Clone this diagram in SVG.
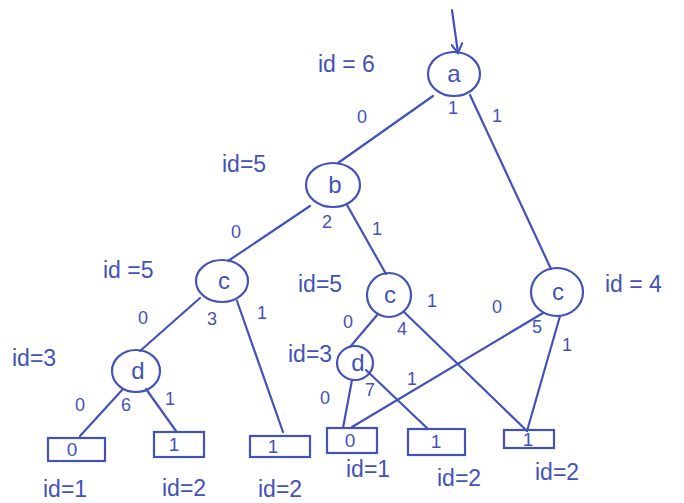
<svg xmlns="http://www.w3.org/2000/svg" width="684" height="503" viewBox="0 0 684 503">
<defs>
<style>
.n{fill:none;stroke:#4352b8;stroke-width:2.2}
.e{stroke:#4352b8;stroke-width:2.2;fill:none;stroke-linecap:round}
text{font-family:"Liberation Sans","DejaVu Sans",sans-serif;fill:#4352b8}
.id{font-size:23px}
.lb{font-size:18px;text-anchor:middle}
.v{font-size:24px;text-anchor:middle}
.lf{font-size:19px;text-anchor:middle}
</style>
<marker id="ah" markerWidth="12" markerHeight="12" refX="10" refY="6" orient="auto" markerUnits="userSpaceOnUse">
<path d="M0,0 L10,6 L0,12" fill="none" stroke="#4352b8" stroke-width="2"/>
</marker>
</defs>
<rect width="684" height="503" fill="#fff"/>
<g id="connectors">
<path class="e" d="M452,10 L458,53" marker-end="url(#ah)"/>
<path class="e" d="M433,96 L338,163"/>
<path class="e" d="M470,95 L551,269"/>
<path class="e" d="M310,206 L228,261"/>
<path class="e" d="M347,205 L386,274"/>
<path class="e" d="M200,298 L140,351"/>
<path class="e" d="M237,301 L283,432"/>
<path class="e" d="M378,314 L350,347"/>
<path class="e" d="M404,312 L527,431"/>
<path class="e" d="M543,313 L352,427"/>
<path class="e" d="M560,316 L527,431"/>
<path class="e" d="M123,389 L80,436"/>
<path class="e" d="M146,389 L176,431"/>
<path class="e" d="M352,380 L343,428"/>
<path class="e" d="M366,370 L428,429"/>
</g>
<g id="edge-labels">
<text class="lb" x="362" y="123">0</text>
<text class="lb" x="453" y="114">1</text>
<text class="lb" x="497" y="122">1</text>
<text class="lb" x="236" y="238">0</text>
<text class="lb" x="327" y="228">2</text>
<text class="lb" x="377" y="235">1</text>
<text class="lb" x="143" y="324">0</text>
<text class="lb" x="212" y="325">3</text>
<text class="lb" x="262" y="319">1</text>
<text class="lb" x="348" y="328">0</text>
<text class="lb" x="402" y="335">4</text>
<text class="lb" x="432" y="307">1</text>
<text class="lb" x="497" y="313">0</text>
<text class="lb" x="537" y="333">5</text>
<text class="lb" x="567" y="351">1</text>
<text class="lb" x="80" y="411">0</text>
<text class="lb" x="126" y="411">6</text>
<text class="lb" x="170" y="405">1</text>
<text class="lb" x="325" y="404">0</text>
<text class="lb" x="370" y="396">7</text>
<text class="lb" x="412" y="385">1</text>
</g>
<g id="node-a">
<ellipse class="n" cx="454" cy="74" rx="26" ry="22"/>
<text class="v" x="454" y="82">a</text>
<text class="id" x="318" y="72">id = 6</text>
</g>
<g id="node-b">
<ellipse class="n" cx="333" cy="185" rx="27" ry="22"/>
<text class="v" x="335" y="193">b</text>
<text class="id" x="222" y="172">id=5</text>
</g>
<g id="node-c1">
<ellipse class="n" cx="222" cy="281" rx="26" ry="21"/>
<text class="v" x="224" y="289">c</text>
<text class="id" x="103" y="278">id =5</text>
</g>
<g id="node-c2">
<ellipse class="n" cx="389" cy="295" rx="22" ry="22"/>
<text class="v" x="390" y="303">c</text>
<text class="id" x="298" y="292">id=5</text>
</g>
<g id="node-c3">
<ellipse class="n" cx="557" cy="292" rx="26" ry="24"/>
<text class="v" x="558" y="300">c</text>
<text class="id" x="605" y="292">id = 4</text>
</g>
<g id="node-d1">
<ellipse class="n" cx="136" cy="371" rx="24" ry="21"/>
<text class="v" x="138" y="379">d</text>
<text class="id" x="12" y="366">id=3</text>
</g>
<g id="node-d2">
<ellipse class="n" cx="355" cy="363" rx="18" ry="17"/>
<text class="v" x="358" y="371">d</text>
<text class="id" x="288" y="362">id=3</text>
</g>
<g id="leaf-1">
<rect class="n" x="48" y="438" width="57" height="23"/>
<text class="lf" x="72" y="456">0</text>
<text class="id" x="43" y="497">id=1</text>
</g>
<g id="leaf-2">
<rect class="n" x="154" y="432" width="50" height="25"/>
<text class="lf" x="174" y="451">1</text>
<text class="id" x="162" y="496">id=2</text>
</g>
<g id="leaf-3">
<rect class="n" x="250" y="436" width="60" height="21"/>
<text class="lf" x="273" y="453">1</text>
<text class="id" x="258" y="497">id=2</text>
</g>
<g id="leaf-4">
<rect class="n" x="327" y="428" width="50" height="25"/>
<text class="lf" x="350" y="447">0</text>
<text class="id" x="346" y="477">id=1</text>
</g>
<g id="leaf-5">
<rect class="n" x="408" y="429" width="57" height="26"/>
<text class="lf" x="436" y="448">1</text>
<text class="id" x="437" y="486">id=2</text>
</g>
<g id="leaf-6">
<rect class="n" x="504" y="430" width="50" height="18"/>
<text class="lf" x="528" y="446">1</text>
<text class="id" x="535" y="480">id=2</text>
</g>
</svg>
